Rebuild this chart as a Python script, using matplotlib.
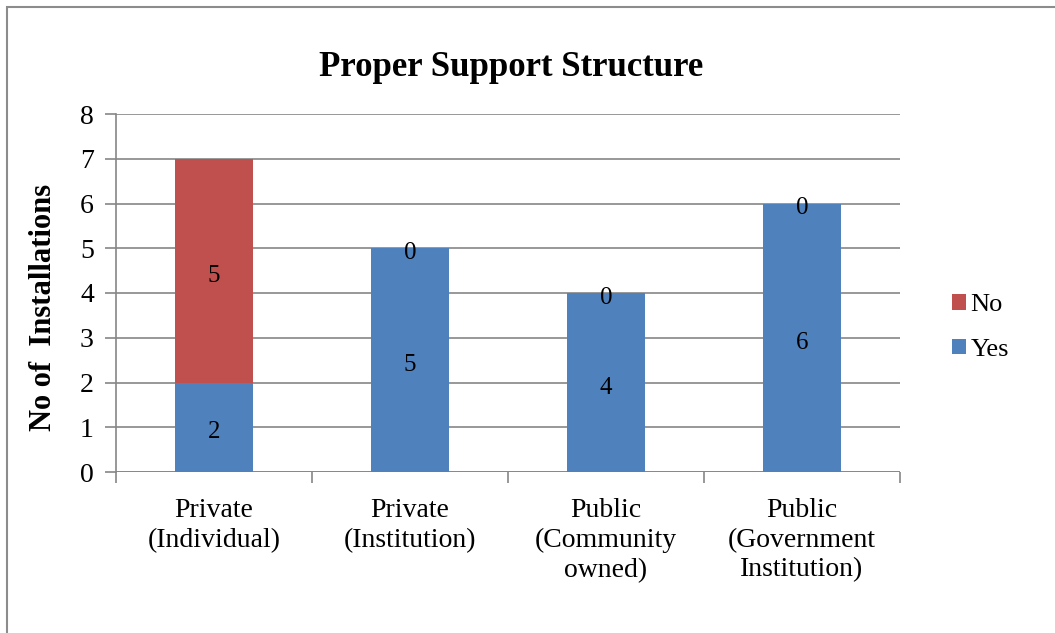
import matplotlib
matplotlib.use("Agg")
import matplotlib.pyplot as plt
from matplotlib.patches import Rectangle
import numpy as np

categories = ["Private\n(Individual)", "Private\n(Institution)", "Public\n(Community\nowned)", "Public\n(Government\nInstitution)"]
yes_vals = [2, 5, 4, 6]
no_vals = [5, 0, 0, 0]
title = "Proper Support Structure"
ylabel = "No of  Installations"

plt.rcParams['font.family'] = ['Liberation Serif', 'DejaVu Serif']

fig = plt.figure(figsize=(10.55, 6.33), dpi=100)
fig.patches.append(Rectangle((7/1055, -0.1), 1.2, 1 - 7/633 + 0.1, transform=fig.transFigure,
                             fill=False, edgecolor='#8c8c8c', linewidth=1.5))
ax = fig.add_axes([116/1055, 1 - 472/633, (900 - 116)/1055, (472 - 114)/633])

blue = '#4f81bd'
red = '#c0504d'
grid = '#868686'
x = np.arange(len(categories))
w = 0.4
b1 = ax.bar(x, yes_vals, w, color=blue, label='Yes', zorder=3)
b2 = ax.bar(x, no_vals, w, bottom=yes_vals, color=red, label='No', zorder=3)

for i in range(len(categories)):
    ax.annotate(str(yes_vals[i]), (x[i], yes_vals[i] / 2), xytext=(0, -5), textcoords='offset pixels',
                ha='center', va='center', fontsize=18, zorder=4)
    ax.annotate(str(no_vals[i]), (x[i], yes_vals[i] + no_vals[i] / 2), xytext=(0, -5), textcoords='offset pixels',
                ha='center', va='center', fontsize=18, zorder=4)

ax.set_xlim(-0.5, len(categories) - 0.5)
ax.set_ylim(0, 8)
ax.set_yticks(range(0, 9))
ax.yaxis.grid(True, color=grid, linewidth=1.2, zorder=0)
ax.set_axisbelow(True)
for s in ['top', 'right', 'bottom']:
    ax.spines[s].set_visible(False)
ax.spines['left'].set_color(grid)
ax.spines['left'].set_linewidth(1.2)
ax.axhline(0, color=grid, linewidth=1.2, zorder=2)

ax.set_xticks(x)
ax.set_xticklabels(categories, fontsize=20, linespacing=1.24)
ax.tick_params(axis='x', length=0, pad=19)
ax.set_xticks(np.arange(-0.5, len(categories), 1), minor=True)
ax.tick_params(axis='x', which='minor', length=8, color=grid, width=1.2)
ax.tick_params(axis='y', length=8, color=grid, width=1.2, labelsize=20, pad=8)

ax.set_ylabel(ylabel, fontsize=22, fontweight='bold')
ax.yaxis.set_label_coords(-(116 - 58) / 784, (472 - 307) / 358)
fig.text(511/1055, 1 - 68/633, title, ha='center', va='center', fontsize=25, fontweight='bold')

handles = [b2, b1]
leg = ax.legend(handles, ['No', 'Yes'], loc='center left', bbox_to_anchor=(1.036, 0.404),
                frameon=False, fontsize=19, handlelength=0.55, handleheight=0.55,
                labelspacing=0.85, handletextpad=0.15)

fig.savefig('out.png', dpi=100)
